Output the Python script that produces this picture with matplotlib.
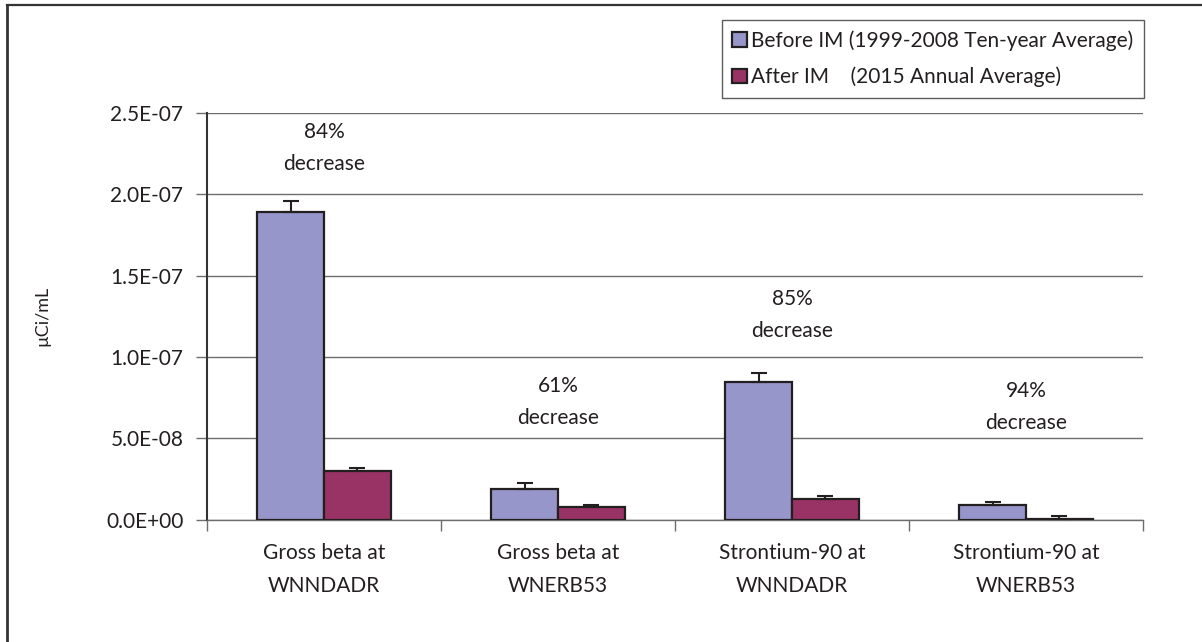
import numpy as np
import matplotlib
matplotlib.use("Agg")
import matplotlib.pyplot as plt
from matplotlib.lines import Line2D

# ---- data --------------------------------------------------------------------
categories = ["Gross beta at\nWNNDADR", "Gross beta at\nWNERB53",
              "Strontium-90 at\nWNNDADR", "Strontium-90 at\nWNERB53"]
before = [1.89e-07, 1.88e-08, 8.44e-08, 8.9e-09]
before_err = [7.0e-09, 3.5e-09, 5.5e-09, 1.7e-09]
after = [3.00e-08, 7.5e-09, 1.26e-08, 6.0e-10]
after_err = [1.5e-09, 1.2e-09, 1.9e-09, 1.5e-09]
pct_labels = ["84%\ndecrease", "61%\ndecrease", "85%\ndecrease", "94%\ndecrease"]
pct_y = [2.285e-07, 7.2e-08, 1.255e-07, 6.9e-08]
legend_labels = ["Before IM (1999-2008 Ten-year Average)",
                 "After IM    (2015 Annual Average)"]
yticks = [0, 5e-08, 1e-07, 1.5e-07, 2e-07, 2.5e-07]

# ---- style -------------------------------------------------------------------
BEFORE = "#9696ca"
AFTER = "#993366"
EDGE = "#231f20"
GRID = "#6d6d6d"
TXT = "#231f20"
plt.rcParams["font.family"] = ["Lato", "DejaVu Sans"]
FS = 15

W, H, DPI = 1202, 642, 100
fig = plt.figure(figsize=(W / DPI, H / DPI), dpi=DPI)
fig.patch.set_facecolor("white")

# outer frame (cropped at right/bottom)
fig.add_artist(Line2D([7 / W, 1], [1 - 5 / H, 1 - 5 / H], color="#333333", lw=1.6,
                      transform=fig.transFigure))
fig.add_artist(Line2D([7 / W, 7 / W], [0, 1 - 5 / H], color="#333333", lw=2.0,
                      transform=fig.transFigure))

ax = fig.add_axes([207 / W, 1 - 519.5 / H, (1143 - 207) / W, (519.5 - 113) / H])
x = np.arange(len(categories))
bw = 0.285
ax.bar(x - bw / 2, before, bw, color=BEFORE, edgecolor=EDGE, linewidth=1.6,
       yerr=[np.zeros(4), before_err], capsize=6,
       error_kw=dict(ecolor=EDGE, elinewidth=1.5, capthick=1.5), zorder=3,
       label=legend_labels[0])
ax.bar(x + bw / 2, after, bw, color=AFTER, edgecolor=EDGE, linewidth=1.6,
       yerr=[np.zeros(4), after_err], capsize=6,
       error_kw=dict(ecolor=EDGE, elinewidth=1.5, capthick=1.5), zorder=3,
       label=legend_labels[1])

for xi, lab, yy in zip(x, pct_labels, pct_y):
    ax.text(xi, yy, lab, ha="center", va="center", fontsize=FS, color=TXT,
            linespacing=1.75)

ax.set_xlim(-0.5, len(categories) - 0.5)
ax.set_ylim(0, 2.5e-07)
ax.set_yticks(yticks)
ax.set_yticklabels([f"{v:.1E}" for v in yticks])
ax.set_xticks(x)
ax.set_xticklabels(categories, linespacing=1.8)
ax.set_xticks(np.arange(len(categories) + 1) - 0.5, minor=True)
ax.tick_params(axis="x", which="major", length=0, pad=17, labelsize=FS, colors=TXT)
ax.tick_params(axis="x", which="minor", length=8, width=1, color=GRID)
ax.tick_params(axis="y", length=8, width=1, color=GRID, pad=9, labelsize=FS,
               labelcolor=TXT)
ax.yaxis.grid(True, color=GRID, lw=1)
ax.set_axisbelow(True)
for s in ["top", "right"]:
    ax.spines[s].set_visible(False)
ax.spines["left"].set_color("#333333")
ax.spines["left"].set_linewidth(1.5)
ax.spines["bottom"].set_color(GRID)
ax.spines["bottom"].set_linewidth(1)

fig.text(42 / W, 1 - 316 / H, "µCi/mL", rotation=90, ha="center", va="center",
         fontsize=FS - 2, color=TXT)

leg = fig.legend(loc="upper left", bbox_to_anchor=(722 / W, 1 - 20 / H),
                 borderaxespad=0, fontsize=FS, frameon=True, fancybox=False,
                 handlelength=0.7, handleheight=0.7, handletextpad=0.2,
                 labelspacing=0.75, borderpad=0.5, edgecolor="#333333")
leg.get_frame().set_linewidth(1)
for t in leg.get_texts():
    t.set_color(TXT)

fig.savefig("out.png", dpi=DPI, facecolor="white")
